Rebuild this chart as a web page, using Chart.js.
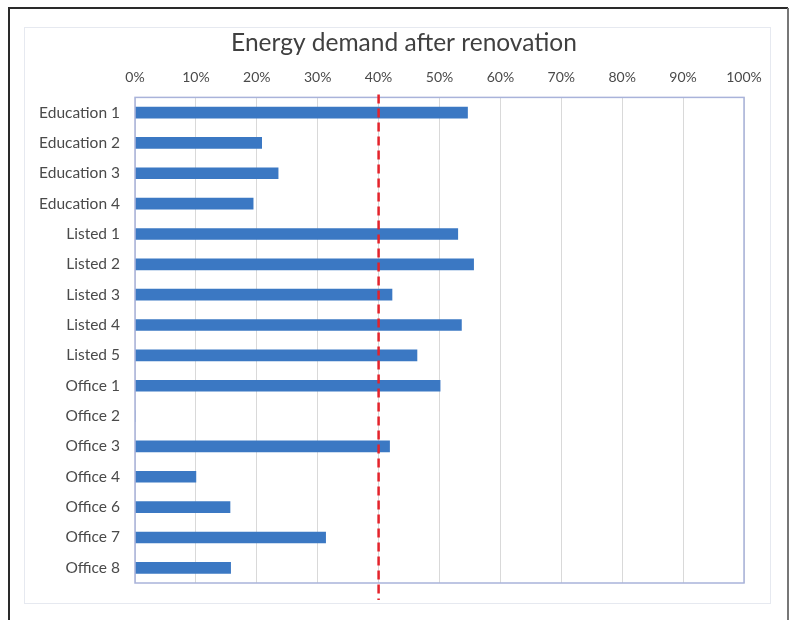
<!DOCTYPE html>
<html>
<head>
<meta charset="utf-8">
<script src="https://cdn.jsdelivr.net/npm/chart.js@4"></script>
<style>
  html, body { margin: 0; padding: 0; background: #ffffff; }
  #wrap { width: 789px; height: 620px; position: relative; }
</style>
</head>
<body>
<div id="wrap"><canvas id="c" width="789" height="620"></canvas></div>
<script>
const chartTitle = "Energy demand after renovation";
const categories = ["Education 1", "Education 2", "Education 3", "Education 4",
  "Listed 1", "Listed 2", "Listed 3", "Listed 4", "Listed 5",
  "Office 1", "Office 2", "Office 3", "Office 4", "Office 6", "Office 7", "Office 8"];
const demandPercent = [54.6, 20.8, 23.5, 19.4, 53.0, 55.6, 42.2, 53.6, 46.3,
  50.1, 0, 41.8, 10.0, 15.6, 31.3, 15.7];
const targetPercent = [40];
const axisMin = 0, axisMax = 100, axisStep = 10;

const FONT = "Lato, 'Open Sans', 'DejaVu Sans', sans-serif";

const framePlugin = {
  id: 'frames',
  afterLayout(chart) {
    // shift the title block slightly right, as in the original
    if (chart.titleBlock) {
      chart.titleBlock.left += 20;
      chart.titleBlock.right += 20;
    }
  },
  beforeDraw(chart) {
    const ctx = chart.ctx;
    ctx.save();
    ctx.fillStyle = '#ffffff';
    ctx.fillRect(0, 0, chart.width, chart.height);
    // outer dark frame
    ctx.strokeStyle = '#2a2a2a';
    ctx.lineWidth = 2;
    ctx.beginPath();
    ctx.moveTo(9, 640);
    ctx.lineTo(9, 8);
    ctx.lineTo(788, 8);
    ctx.stroke();
    ctx.strokeStyle = '#777777';
    ctx.beginPath();
    ctx.moveTo(788, 8);
    ctx.lineTo(788, 640);
    ctx.stroke();
    // inner light frame
    ctx.strokeStyle = '#e6e9f0';
    ctx.lineWidth = 1;
    ctx.strokeRect(24.5, 27.5, 746, 576);
    ctx.restore();
  },
  afterDatasetsDraw(chart) {
    const ctx = chart.ctx;
    const a = chart.chartArea;
    const xs = chart.scales.x;
    ctx.save();
    // plot area border
    ctx.strokeStyle = '#a9b3da';
    ctx.lineWidth = 1.5;
    ctx.strokeRect(a.left, a.top, a.right - a.left, a.bottom - a.top);
    // target line
    targetPercent.forEach(v => {
      const px = xs.getPixelForValue(v);
      ctx.strokeStyle = '#e4232b';
      ctx.lineWidth = 2.5;
      ctx.setLineDash([9, 5]);
      ctx.beginPath();
      ctx.moveTo(px, a.top - 3);
      ctx.lineTo(px, a.bottom + 17);
      ctx.stroke();
    });
    ctx.restore();
  }
};

new Chart(document.getElementById('c'), {
  type: 'bar',
  data: {
    labels: categories,
    datasets: [{
      data: demandPercent,
      backgroundColor: '#3b78c3',
      borderWidth: 0,
      barThickness: 11
    }]
  },
  options: {
    indexAxis: 'y',
    responsive: false,
    animation: false,
    devicePixelRatio: 1,
    layout: { padding: { left: 24, right: 45, top: 27, bottom: 37 } },
    plugins: {
      legend: { display: false },
      tooltip: { enabled: false },
      title: {
        display: true,
        text: chartTitle,
        color: '#404040',
        font: { family: FONT, size: 24.5, weight: 'normal' },
        padding: { top: 1, bottom: 6 }
      }
    },
    scales: {
      x: {
        position: 'top',
        min: axisMin,
        max: axisMax,
        ticks: {
          stepSize: axisStep,
          callback: v => v + '%',
          color: '#4a4a4a',
          font: { family: FONT, size: 14 },
          padding: 12,
          maxRotation: 0
        },
        grid: { color: '#d9d9d9', drawTicks: false, lineWidth: 1 },
        border: { display: false },
        afterFit(s) { s.height = 34; }
      },
      y: {
        ticks: {
          color: '#4a4a4a',
          font: { family: FONT, size: 15.5 },
          padding: 15,
          autoSkip: false
        },
        grid: { display: false, drawTicks: false },
        border: { display: false },
        afterFit(s) { s.width = 111; }
      }
    }
  },
  plugins: [framePlugin]
});
</script>
</body>
</html>
